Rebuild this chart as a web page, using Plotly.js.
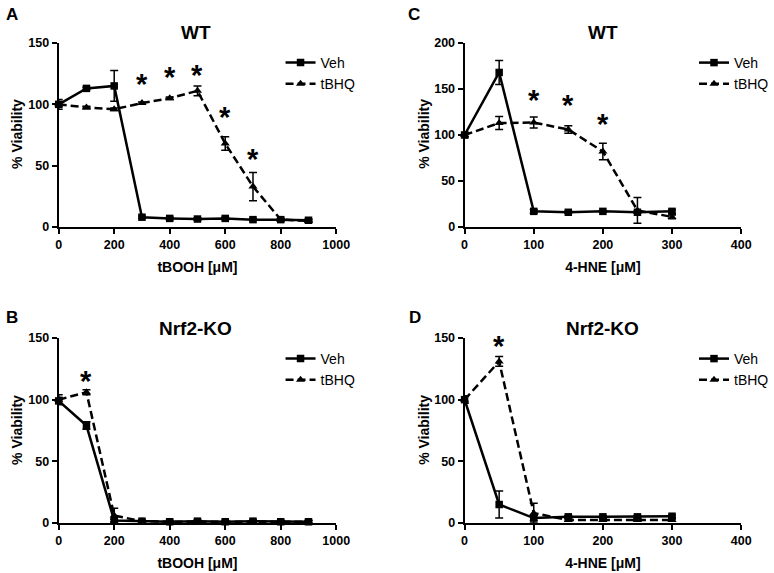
<!DOCTYPE html>
<html>
<head>
<meta charset="utf-8">
<script src="https://cdn.plot.ly/plotly-3.0.1.min.js"></script>
<style>html,body{margin:0;padding:0;background:#fff;}#chart{width:774px;height:573px;}</style>
</head>
<body>
<div id="chart"></div>
<script>
// ---- Data ----
const doseTBOOH = [0, 100, 200, 300, 400, 500, 600, 700, 800, 900];
const doseHNE = [0, 50, 100, 150, 200, 250, 300];

// Panel A: WT, tBOOH
const vehA = [100, 113, 115, 8, 7, 6.5, 7, 6, 6, 5.5];
const vehAErr = [2, 1, 12.5, 1, 1, 1, 1, 1, 1, 1];
const tbhqA = [100, 97.5, 96, 101, 105, 111, 68, 33, 6, 5];
const tbhqAErr = [4, 1, 1, 1, 1, 4, 5.5, 11.5, 1, 1];
const starXA = [300, 400, 500, 600, 700];
const starYA = [122, 128, 130, 95, 61.5];

// Panel B: Nrf2-KO, tBOOH
const vehB = [99, 79, 2, 1.5, 1, 1.5, 1, 1.5, 1, 1];
const vehBErr = [3, 3, 1, 1, 1, 1, 1, 1, 1, 1];
const tbhqB = [100, 106, 6, 1.5, 1, 1, 1, 1, 1, 1];
const tbhqBErr = [4, 2, 6, 1, 1, 1, 1, 1, 1, 1];
const starXB = [100];
const starYB = [121];

// Panel C: WT, 4-HNE
const vehC = [100, 168, 17, 16, 17, 16, 17];
const vehCErr = [2, 13, 2, 1, 1, 1, 2];
const tbhqC = [100, 113, 113.5, 106, 82, 18, 11];
const tbhqCErr = [3, 7, 6, 4, 9, 14, 2];
const starXC = [100, 150, 200];
const starYC = [146, 140, 120];

// Panel D: Nrf2-KO, 4-HNE
const vehD = [100, 15, 4, 5, 5, 5, 5.5];
const vehDErr = [3, 11, 2, 1, 1, 1, 1];
const tbhqD = [100, 131, 8, 2.5, 2.5, 2.5, 2.5];
const tbhqDErr = [3, 4, 8, 1, 1, 1, 1];
const starXD = [50];
const starYD = [149];

const panelLetters = ['A', 'B', 'C', 'D'];
const panelTitles = ['WT', 'Nrf2-KO', 'WT', 'Nrf2-KO'];
const seriesNames = ['Veh', 'tBHQ'];
const xTitleTBOOH = 'tBOOH [μM]';
const xTitleHNE = '4-HNE [μM]';
const yTitle = '% Viability';

// ---- Styling ----
const FONT = 'Liberation Sans, Arial, Helvetica, sans-serif';
const W = 774, H = 573;
const px = v => v / W;
const py = v => 1 - v / H;

function vehTrace(x, y, err, xa, ya, leg) {
  return {
    x: x, y: y, type: 'scatter', mode: 'lines+markers', name: seriesNames[0],
    xaxis: xa, yaxis: ya, legend: leg, cliponaxis: false,
    line: {color: '#000', width: 2.5, dash: 'solid'},
    marker: {symbol: 'square', size: 7.5, color: '#000'},
    error_y: {type: 'data', array: err, visible: true, color: '#000', thickness: 1.5, width: 4}
  };
}
function tbhqTrace(x, y, err, xa, ya, leg) {
  return {
    x: x, y: y, type: 'scatter', mode: 'lines+markers', name: seriesNames[1],
    xaxis: xa, yaxis: ya, legend: leg, cliponaxis: false,
    line: {color: '#000', width: 2.5, dash: '8px,4px'},
    marker: {symbol: 'triangle-up', size: 8, color: '#000'},
    error_y: {type: 'data', array: err, visible: true, color: '#000', thickness: 1.5, width: 4}
  };
}

const traces = [
  vehTrace(doseTBOOH, vehA, vehAErr, 'x', 'y', 'legend'),
  tbhqTrace(doseTBOOH, tbhqA, tbhqAErr, 'x', 'y', 'legend'),
  vehTrace(doseTBOOH, vehB, vehBErr, 'x2', 'y2', 'legend2'),
  tbhqTrace(doseTBOOH, tbhqB, tbhqBErr, 'x2', 'y2', 'legend2'),
  vehTrace(doseHNE, vehC, vehCErr, 'x3', 'y3', 'legend3'),
  tbhqTrace(doseHNE, tbhqC, tbhqCErr, 'x3', 'y3', 'legend3'),
  vehTrace(doseHNE, vehD, vehDErr, 'x4', 'y4', 'legend4'),
  tbhqTrace(doseHNE, tbhqD, tbhqDErr, 'x4', 'y4', 'legend4')
];

const tickFont = {family: FONT, size: 12.5, color: '#000', weight: 'bold'};
const titleFont = {family: FONT, size: 14, color: '#000', weight: 'bold'};

function xAxis(domain, range, dtick, title, anchor) {
  return {
    domain: domain, range: range, dtick: dtick, tick0: 0, anchor: anchor,
    showline: true, linewidth: 2, linecolor: '#000', showgrid: false, zeroline: false,
    ticks: 'outside', ticklen: 5, tickwidth: 2, tickcolor: '#000',
    tickfont: tickFont, automargin: false,
    title: {text: title, font: titleFont, standoff: 11}
  };
}
function yAxis(domain, range, dtick, anchor) {
  return {
    domain: domain, range: range, dtick: dtick, tick0: 0, anchor: anchor,
    showline: true, linewidth: 2, linecolor: '#000', showgrid: false, zeroline: false,
    ticks: 'outside', ticklen: 5, tickwidth: 2, tickcolor: '#000',
    tickfont: tickFont, automargin: false, ticklabelstandoff: 0
  };
}

const xLeft = [px(59), px(338)];
const xRight = [px(467), px(745)];
const yTop = [py(227), py(43)];
const yBot = [py(523), py(338)];

function legendAt(xPix, yPix) {
  return {
    x: px(xPix), y: py(yPix), xref: 'paper', yref: 'paper', xanchor: 'left', yanchor: 'top',
    bgcolor: 'rgba(0,0,0,0)', borderwidth: 0, itemwidth: 30,
    font: {family: FONT, size: 14, color: '#000'}, tracegroupgap: 0
  };
}

const annotations = [];
// panel letters, titles and y-axis titles
const letterPos = [[12, 15], [12, 317], [416, 15], [417, 317]];
const titlePos = [[197, 32], [197, 328], [606, 32], [606, 328]];
const yTitlePos = [[17, 134], [17, 430], [426, 134], [426, 430]];
for (let i = 0; i < 4; i++) {
  annotations.push({text: panelLetters[i], x: px(letterPos[i][0]), y: py(letterPos[i][1]),
    xref: 'paper', yref: 'paper', xanchor: 'center', yanchor: 'middle', showarrow: false,
    font: {family: FONT, size: 17, color: '#000', weight: 'bold'}});
  annotations.push({text: panelTitles[i], x: px(titlePos[i][0]), y: py(titlePos[i][1]),
    xref: 'paper', yref: 'paper', xanchor: 'center', yanchor: 'middle', showarrow: false,
    font: {family: FONT, size: 19, color: '#000', weight: 'bold'}});
  annotations.push({text: yTitle, x: px(yTitlePos[i][0]), y: py(yTitlePos[i][1]),
    xref: 'paper', yref: 'paper', xanchor: 'center', yanchor: 'middle', showarrow: false,
    textangle: -90, font: titleFont});
}
function addStars(xs, ys, xr, yr) {
  for (let i = 0; i < xs.length; i++) {
    annotations.push({text: '*', x: xs[i], y: ys[i], xref: xr, yref: yr,
      xanchor: 'center', yanchor: 'middle', yshift: -7, showarrow: false,
      font: {family: FONT, size: 29, color: '#000', weight: 'bold'}});
  }
}
addStars(starXA, starYA, 'x', 'y');
addStars(starXB, starYB, 'x2', 'y2');
addStars(starXC, starYC, 'x3', 'y3');
addStars(starXD, starYD, 'x4', 'y4');

const layout = {
  width: W, height: H,
  margin: {l: 0, r: 0, t: 0, b: 0},
  paper_bgcolor: '#fff', plot_bgcolor: '#fff',
  font: {family: FONT, color: '#000'},
  showlegend: true,
  xaxis: xAxis(xLeft, [0, 1000], 200, xTitleTBOOH, 'y'),
  yaxis: yAxis(yTop, [0, 150], 50, 'x'),
  xaxis2: xAxis(xLeft, [0, 1000], 200, xTitleTBOOH, 'y2'),
  yaxis2: yAxis(yBot, [0, 150], 50, 'x2'),
  xaxis3: xAxis(xRight, [0, 400], 100, xTitleHNE, 'y3'),
  yaxis3: yAxis(yTop, [0, 200], 50, 'x3'),
  xaxis4: xAxis(xRight, [0, 400], 100, xTitleHNE, 'y4'),
  yaxis4: yAxis(yBot, [0, 150], 50, 'x4'),
  legend: legendAt(282, 47),
  legend2: legendAt(282, 343),
  legend3: legendAt(698, 47),
  legend4: legendAt(698, 343),
  annotations: annotations
};

Plotly.newPlot('chart', traces, layout, {displayModeBar: false, staticPlot: true});
</script>
</body>
</html>
